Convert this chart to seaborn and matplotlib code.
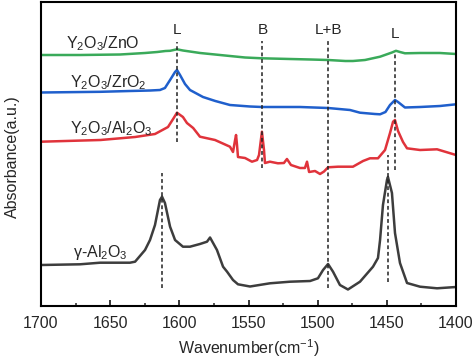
import numpy as np
import pandas as pd
import matplotlib
matplotlib.use("Agg")
import matplotlib.pyplot as plt
import seaborn as sns

# ---- data (wavenumber, absorbance in arbitrary offset units) ----
zno_x = [1700, 1671.8, 1642.9, 1624.8, 1616, 1610, 1606.7, 1601.7, 1597.4, 1585, 1563.4,
         1552.5, 1540.3, 1520, 1505, 1492.5, 1480, 1474.5, 1465.8, 1454.9, 1446.3, 1443.4,
         1440.5, 1436.9, 1426, 1411.6, 1400]
zno_y = [251, 251, 251.5, 253, 254, 255, 255.2, 256.7, 255.5, 253, 250,
         248.5, 247.7, 247, 246.5, 246, 245, 245, 246, 249.3, 253.5, 255.2,
         254, 252.7, 253, 253, 252]

zro_x = [1700, 1657, 1635.7, 1621, 1614, 1610.4, 1606.7, 1603.1, 1601.7, 1599.5, 1595.9,
         1592.3, 1582.9, 1574, 1563.4, 1548.9, 1540.3, 1512.8, 1492.5, 1476.6, 1469.4,
         1458.6, 1454.9, 1451, 1447.7, 1444.1, 1441.9, 1436.9, 1426, 1411.6, 1400]
zro_y = [213.5, 214.2, 215, 215.5, 216, 218, 226, 234, 236, 231, 222,
         216, 209, 205, 201, 199.5, 199, 199, 198, 196, 193.3,
         192, 191.7, 194, 201, 206, 204, 198.5, 199, 200, 201.7]

al_x = [1700, 1657, 1632, 1617.6, 1608.2, 1604.5, 1601.7, 1597.4, 1594.5, 1590, 1585.1,
        1574.2, 1563.4, 1561.2, 1559.7, 1559.0, 1558.3, 1557.6, 1552.5, 1547.5, 1543.8,
        1542.4, 1540.3, 1538.8, 1538.1, 1534.5, 1528.7, 1524.4, 1522.2, 1519.3, 1512.8,
        1509.2, 1507.7, 1506.2, 1501.9, 1498.3, 1495.4, 1492.5, 1485.3, 1474.5, 1467.2,
        1462.2, 1456.4, 1451.3, 1447.7, 1445.5, 1444.1, 1441.9, 1438.3, 1435.4, 1426,
        1413.7, 1400]
al_y = [164.3, 166, 169, 172, 179, 187, 193.3, 189, 183, 178, 169.3,
        166, 159.3, 154, 166, 171, 161, 149, 148, 144.3, 146,
        151, 174.3, 156, 143, 144.3, 142.7, 143, 147, 141, 138,
        138, 144.3, 134, 135, 132, 134.5, 138.7, 139.3, 139.3, 145,
        147.7, 147.7, 156, 173, 184.3, 186, 175, 164, 157.7, 156,
        156.7, 151]

gam_x = [1700, 1671.8, 1657.3, 1635.7, 1632, 1624.8, 1621.2, 1617.6, 1614, 1612.5, 1610.4,
         1606.7, 1603.1, 1597.4, 1592.3, 1585.1, 1580, 1577.8, 1572.8, 1568.4, 1565.5,
         1561.2, 1557.6, 1548.9, 1534.5, 1520, 1505.5, 1499.8, 1496.1, 1492.5, 1488.9,
         1483.9, 1478.1, 1469.4, 1460, 1456.4, 1454.9, 1452.8, 1449.9, 1449.2, 1446.3,
         1444.1, 1440.5, 1435.4, 1426, 1413.7, 1400]
gam_y = [41, 41.7, 43.3, 43.3, 44.3, 56, 66, 81, 106, 109.3, 103,
         79.3, 66, 59.3, 59.3, 62, 64.3, 68.5, 56, 39.3, 34.3,
         26, 21.7, 19.5, 22.7, 24.3, 25, 27.7, 36, 42, 34.3,
         21, 16.5, 24.3, 39.3, 48, 66, 101, 126, 129, 113,
         73, 43, 23, 19.3, 17.7, 19]

series_labels = ["Y$_2$O$_3$/ZnO", "Y$_2$O$_3$/ZrO$_2$", "Y$_2$O$_3$/Al$_2$O$_3$", "γ-Al$_2$O$_3$"]
peak_labels = ["L", "B", "L+B", "L"]
peak_pos = [1602, 1540, 1492.5, 1444]
xticks = [1700, 1650, 1600, 1550, 1500, 1450, 1400]

# ---- style ----
sns.set_theme(style="white")
plt.rcParams["font.family"] = ["Liberation Sans", "DejaVu Sans"]
plt.rcParams["mathtext.fontset"] = "custom"
plt.rcParams["mathtext.rm"] = "Liberation Sans"
plt.rcParams["mathtext.it"] = "Liberation Sans:italic"
plt.rcParams["mathtext.default"] = "rm"

fig = plt.figure(figsize=(4.74, 3.62), dpi=100)
ax = fig.add_axes([41/474, 1-306/362, 415/474, 304/362])

colors = ["#3aaa5a", "#1f5fcc", "#e0333b", "#3d3d3d"]
datas = [(zno_x, zno_y), (zro_x, zro_y), (al_x, al_y), (gam_x, gam_y)]
for (xs, ys), c in zip(datas, colors):
    df = pd.DataFrame({"w": xs, "a": ys})
    sns.lineplot(data=df, x="w", y="a", color=c, lw=1.8, estimator=None, sort=False, ax=ax)

# dashed guide lines
dash = dict(color="#222222", lw=1.1, linestyles=(0, (2.5, 1.8)))
ax.vlines(peak_pos[0], 164, 264, **dash)
ax.vlines(peak_pos[1], 138, 265, **dash)
ax.vlines(peak_pos[2], 18, 265, **dash)
ax.vlines(peak_pos[3], 136, 254, **dash)
ax.vlines(1612.5, 18, 133, **dash)
ax.vlines(1449.5, 24, 151, **dash)

# peak labels
for lab, p, yy in zip(peak_labels, peak_pos, [276, 276, 276, 272]):
    ax.text(p, yy, lab, ha="center", va="center", fontsize=11)

# series labels
ax.text(1655, 262, series_labels[0], ha="center", va="center", fontsize=11.5)
ax.text(1651, 223, series_labels[1], ha="center", va="center", fontsize=11.5)
ax.text(1649, 177, series_labels[2], ha="center", va="center", fontsize=11.5)
ax.text(1657, 54, series_labels[3], ha="center", va="center", fontsize=11.5)

ax.set_xlim(1700, 1400)
ax.set_ylim(0, 304)
ax.set_xticks(xticks)
ax.set_xticklabels([str(t) for t in xticks], fontsize=11.5)
ax.set_xticks([1675, 1625, 1575, 1525, 1475, 1425], minor=True)
ax.set_yticks([])
ax.tick_params(axis="x", which="major", direction="in", length=4, width=1.3, bottom=True, pad=7)
ax.tick_params(axis="x", which="minor", direction="in", length=2.5, width=1.1, bottom=True)
for s in ax.spines.values():
    s.set_linewidth(1.5)
    s.set_color("black")
ax.set_xlabel("Wavenumber(cm$^{-1}$)", fontsize=11.5, labelpad=5)
ax.set_ylabel("Absorbance(a.u.)", fontsize=11.5)
ax.yaxis.set_label_coords(-0.05, 0.49)

fig.savefig("out.png", dpi=100)
